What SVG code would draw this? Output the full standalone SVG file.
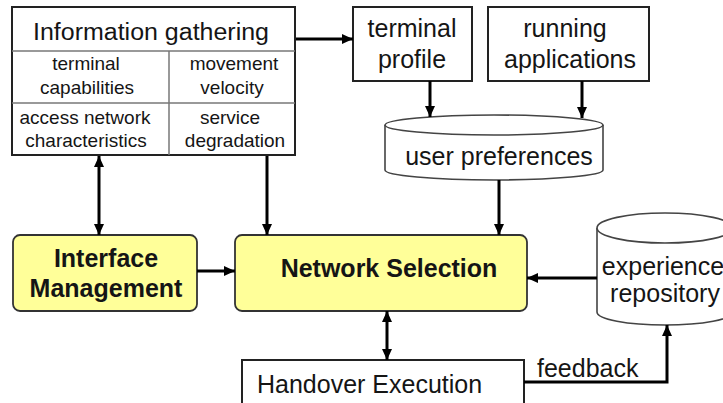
<svg xmlns="http://www.w3.org/2000/svg" width="723" height="403" viewBox="0 0 723 403">
<style>
  text { font-family: "Liberation Sans", Arial, sans-serif; fill: #151515; }
  .big { font-size: 25px; }
  .bold { font-size: 25px; font-weight: bold; }
  .small { font-size: 19px; }
  .box { fill: #ffffff; stroke: #222; stroke-width: 2; }
  .grid { fill: none; stroke: #777; stroke-width: 1.5; }
  .yellow { fill: #ffff99; stroke: #333; stroke-width: 1.8; }
  .cyl { fill: #ffffff; stroke: #444; stroke-width: 1.6; }
  .conn { fill: none; stroke: #000; stroke-width: 3; }
</style>
<defs>
  <marker id="ah" markerUnits="userSpaceOnUse" markerWidth="12" markerHeight="12" viewBox="0 0 12 12" refX="11" refY="6" orient="auto-start-reverse">
    <path d="M0,1 L11,6 L0,11 Z" fill="#000"/>
  </marker>
</defs>

<g id="info-gathering">
  <rect class="box" x="12" y="7" width="283" height="148"/>
  <line class="grid" x1="12" y1="51" x2="295" y2="51"/>
  <line class="grid" x1="12" y1="103" x2="295" y2="103"/>
  <line class="grid" x1="169" y1="51" x2="169" y2="155"/>
  <text class="big" x="151" y="40" text-anchor="middle" textLength="236" lengthAdjust="spacingAndGlyphs" style="font-size:23px">Information gathering</text>
  <text class="small" x="86" y="70" text-anchor="middle">terminal</text>
  <text class="small" x="87" y="94" text-anchor="middle">capabilities</text>
  <text class="small" x="85" y="124" text-anchor="middle">access network</text>
  <text class="small" x="86" y="147" text-anchor="middle">characteristics</text>
  <text class="small" x="234" y="70" text-anchor="middle">movement</text>
  <text class="small" x="232" y="94" text-anchor="middle">velocity</text>
  <text class="small" x="230" y="124" text-anchor="middle">service</text>
  <text class="small" x="235" y="147" text-anchor="middle">degradation</text>
</g>

<g id="terminal-profile">
  <rect class="box" x="353" y="7" width="119" height="74"/>
  <text class="big" x="412" y="37" text-anchor="middle">terminal</text>
  <text class="big" x="412" y="68" text-anchor="middle">profile</text>
</g>

<g id="running-applications">
  <rect class="box" x="488" y="7" width="161" height="74"/>
  <text class="big" x="565" y="37" text-anchor="middle">running</text>
  <text class="big" x="570" y="68" text-anchor="middle">applications</text>
</g>

<g id="user-preferences">
  <path class="cyl" d="M385,125 L385,170 A109,10 0 0 0 603,170 L603,125"/>
  <ellipse class="cyl" cx="494" cy="125" rx="109" ry="10"/>
  <text class="big" x="499" y="165" text-anchor="middle">user preferences</text>
</g>

<g id="interface-management">
  <rect class="yellow" x="13" y="235" width="184" height="76" rx="7" ry="7"/>
  <text class="bold" x="106" y="267" text-anchor="middle">Interface</text>
  <text class="bold" x="106" y="297" text-anchor="middle">Management</text>
</g>

<g id="network-selection">
  <rect class="yellow" x="235" y="235" width="292" height="76" rx="7" ry="7"/>
  <text class="bold" x="389" y="277" text-anchor="middle">Network Selection</text>
</g>

<g id="experience-repository">
  <path class="cyl" d="M597,228 L597,312 A68,13 0 0 0 733,312 L733,228"/>
  <ellipse class="cyl" cx="665" cy="228" rx="68" ry="15"/>
  <text class="big" x="663" y="275" text-anchor="middle">experience</text>
  <text class="big" x="665" y="302" text-anchor="middle">repository</text>
</g>

<g id="handover-execution">
  <rect class="box" x="242" y="360" width="282" height="60"/>
  <text class="big" x="257" y="393">Handover Execution</text>
</g>

<g id="connectors">
  <line class="conn" x1="296" y1="39" x2="353" y2="39" marker-end="url(#ah)"/>
  <line class="conn" x1="430" y1="81" x2="430" y2="117" marker-end="url(#ah)"/>
  <line class="conn" x1="582" y1="81" x2="582" y2="118" marker-end="url(#ah)"/>
  <line class="conn" x1="499" y1="180" x2="499" y2="235" marker-end="url(#ah)"/>
  <line class="conn" x1="99" y1="156" x2="99" y2="235" marker-start="url(#ah)" marker-end="url(#ah)"/>
  <line class="conn" x1="267" y1="156" x2="267" y2="235" marker-end="url(#ah)"/>
  <line class="conn" x1="197" y1="271" x2="235" y2="271" marker-end="url(#ah)"/>
  <line class="conn" x1="597" y1="278" x2="527" y2="278" marker-end="url(#ah)"/>
  <line class="conn" x1="387" y1="311" x2="387" y2="360" marker-start="url(#ah)" marker-end="url(#ah)"/>
  <polyline class="conn" points="524,382 667,382 667,325" marker-end="url(#ah)"/>
  <text class="big" x="537" y="377">feedback</text>
</g>
</svg>
